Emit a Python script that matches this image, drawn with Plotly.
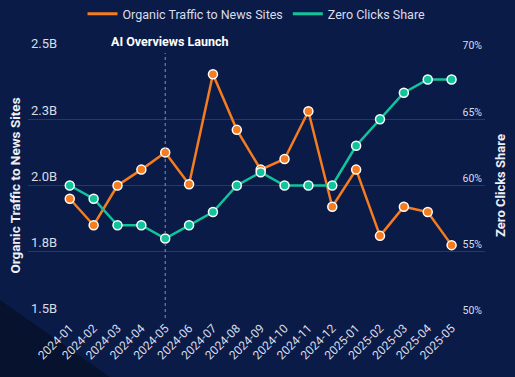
import plotly.graph_objects as go

months = ["2024-01", "2024-02", "2024-03", "2024-04", "2024-05", "2024-06", "2024-07",
          "2024-08", "2024-09", "2024-10", "2024-11", "2024-12", "2025-01", "2025-02",
          "2025-03", "2025-04", "2025-05"]
organic_traffic = [1.95e9, 1.85e9, 2.00e9, 2.06e9, 2.125e9, 2.005e9, 2.42e9, 2.21e9,
                   2.06e9, 2.10e9, 2.28e9, 1.92e9, 2.06e9, 1.81e9, 1.92e9, 1.90e9, 1.775e9]
zero_clicks = [60, 59, 57, 57, 56, 57, 58, 60, 61, 60, 60, 60, 63, 65, 67, 68, 68]

left_tickvals = [1.5e9, 1.75e9, 2.0e9, 2.25e9, 2.5e9]
left_ticktext = ["1.5B", "1.8B", "2.0B", "2.3B", "2.5B"]
right_tickvals = [50, 55, 60, 65, 70]
right_ticktext = ["50%", "55%", "60%", "65%", "70%"]

launch_month = "2024-05"

ORANGE = "#f57c1f"
GREEN = "#12c49b"
BG = "#0b1b48"
TXT = "#d9dde8"
GRID = "#26376a"

fig = go.Figure()
fig.add_trace(go.Scatter(
    x=months, y=organic_traffic, name="Organic Traffic to News Sites",
    mode="lines+markers", line=dict(color=ORANGE, width=2.5),
    marker=dict(size=9, color=ORANGE, line=dict(color="white", width=1.5)),
    yaxis="y", showlegend=False))
fig.add_trace(go.Scatter(
    x=months, y=zero_clicks, name="Zero Clicks Share",
    mode="lines+markers", line=dict(color=GREEN, width=2.5),
    marker=dict(size=9, color=GREEN, line=dict(color="white", width=1.5)),
    yaxis="y2", showlegend=False))
# legend entries (line-only symbols)
fig.add_trace(go.Scatter(x=[None], y=[None], name="Organic Traffic to News Sites",
                         mode="lines", line=dict(color=ORANGE, width=3)))
fig.add_trace(go.Scatter(x=[None], y=[None], name="Zero Clicks Share",
                         mode="lines", line=dict(color=GREEN, width=3)))

fig.update_layout(
    width=515, height=377,
    margin=dict(l=28, r=30, t=53, b=59, autoexpand=False),
    paper_bgcolor=BG, plot_bgcolor="rgba(0,0,0,0)",
    font=dict(family="Roboto, Arial, sans-serif", color=TXT, size=12),
    showlegend=True,
    legend=dict(orientation="h", x=0.5, xanchor="center", y=1.147, yanchor="middle",
                font=dict(size=12.5, color=TXT), bgcolor="rgba(0,0,0,0)",
                itemwidth=30),
    xaxis=dict(type="category", range=[-1.75, 17.4], tickangle=-45,
               showgrid=False, zeroline=False, showline=False, ticks="",
               tickfont=dict(size=12, color=TXT), automargin=False),
    yaxis=dict(range=[1.5e9, 2.5e9], tickvals=left_tickvals, ticktext=left_ticktext,
               ticklabelposition="inside top", ticklabeloverflow="allow",
               showgrid=True, gridcolor=GRID, gridwidth=1,
               zeroline=False, showline=False, ticks="",
               tickfont=dict(size=13, color=TXT),
               title=dict(text="<b>Organic Traffic to News Sites</b>", standoff=7,
                          font=dict(size=13.5, color="#eef0f6")),
               automargin=False),
    yaxis2=dict(range=[50, 70], tickvals=right_tickvals, ticktext=right_ticktext,
                overlaying="y", side="right", ticklabelposition="inside top",
                ticklabeloverflow="allow",
                showgrid=False, zeroline=False, showline=False, ticks="",
                tickfont=dict(size=10.5, color=TXT),
                title=dict(text="<b>Zero Clicks Share</b>", standoff=14,
                           font=dict(size=13, color="#eef0f6")),
                automargin=False),
    shapes=[
        dict(type="path", xref="paper", yref="paper",
             path="M -0.0613 0.068 L -0.0613 -0.2226 L 0.179 -0.2226 Z",
             fillcolor="#07122f", line=dict(width=0), layer="below"),
        dict(type="line", xref="x", yref="paper", x0=launch_month, x1=launch_month,
             y0=0, y1=1, line=dict(color="#8a94b0", width=1, dash="dot")),
    ],
    annotations=[
        dict(text="<b>AI Overviews Launch</b>", x=launch_month, xref="x",
             y=1.0, yref="paper", yanchor="bottom", xshift=5, yshift=2, showarrow=False,
             font=dict(size=12.5, color="white")),
    ],
)

fig.write_html("out.html", config={"displayModeBar": False},
               post_script="document.body.style.margin='0';document.body.style.overflow='hidden';")
